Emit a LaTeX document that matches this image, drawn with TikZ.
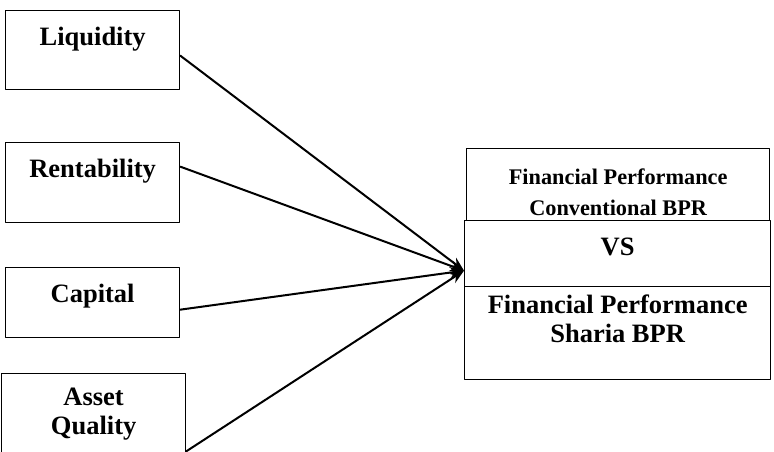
\documentclass[tikz,border=0pt]{standalone}
\usepackage{fontspec}
\setmainfont{Liberation Serif}
\usetikzlibrary{positioning,arrows.meta}
\tikzset{
  box/.style={draw,line width=1.3pt,inner sep=0pt,anchor=north west},
  txt/.style={inner sep=0pt,align=center,font=\bfseries\fontsize{26.5}{29}\selectfont},
  smalltxt/.style={inner sep=0pt,align=center,font=\bfseries\fontsize{22.3}{31}\selectfont},
  conn/.style={->,line width=2pt}
}
\begin{document}
\begin{tikzpicture}[line cap=round,line join=round,>={Stealth[length=14pt,width=11pt]},x=1pt,y=-1pt]
\useasboundingbox (0,0) rectangle (774,451);
\clip (0,0) rectangle (774,451);
% left boxes
\node[box,minimum width=174pt,minimum height=79pt] (liq) at (5,10) {};
\node[txt] (liqt) at ([yshift=-29pt]liq.north) {Liquidity};
\node[box,minimum width=174pt,minimum height=80pt] (ren) at (5,142) {};
\node[txt] (rent) at ([yshift=-29pt]ren.north) {Rentability};
\node[box,minimum width=174pt,minimum height=70pt] (cap) at (5,267) {};
\node[txt] (capt) at ([yshift=-29pt]cap.north) {Capital};
\node[box,minimum width=184pt,minimum height=82pt] (aq) at (1,373) {};
\node[txt] (aqt) at ([yshift=-41pt]aq.north) {Asset\\Quality};
% right boxes
\node[box,minimum width=303pt,minimum height=72pt] (conv) at (466,148) {};
\node[smalltxt] (convt) at ([yshift=-44.5pt]conv.north) {Financial Performance\\Conventional BPR};
\node[box,minimum width=306pt,minimum height=66pt] (vs) at (464,220) {};
\node[txt] (vst) at ([yshift=-27pt]vs.north) {VS};
\node[box,minimum width=306pt,minimum height=93pt] (shar) at (464,286) {};
\node[txt] (shart) at ([yshift=-33pt]shar.north) {Financial Performance\\Sharia BPR};
% arrows
\coordinate (hub) at ([yshift=-17pt]vs.west);
\draw[conn] ([yshift=-5.5pt]liq.east) -- (hub);
\draw[conn] ([yshift=16pt]ren.east) -- (hub);
\draw[conn] ([yshift=-7pt]cap.east) -- (hub);
\draw[conn] ([yshift=5pt]aq.south east) -- (hub);
\end{tikzpicture}
\end{document}
